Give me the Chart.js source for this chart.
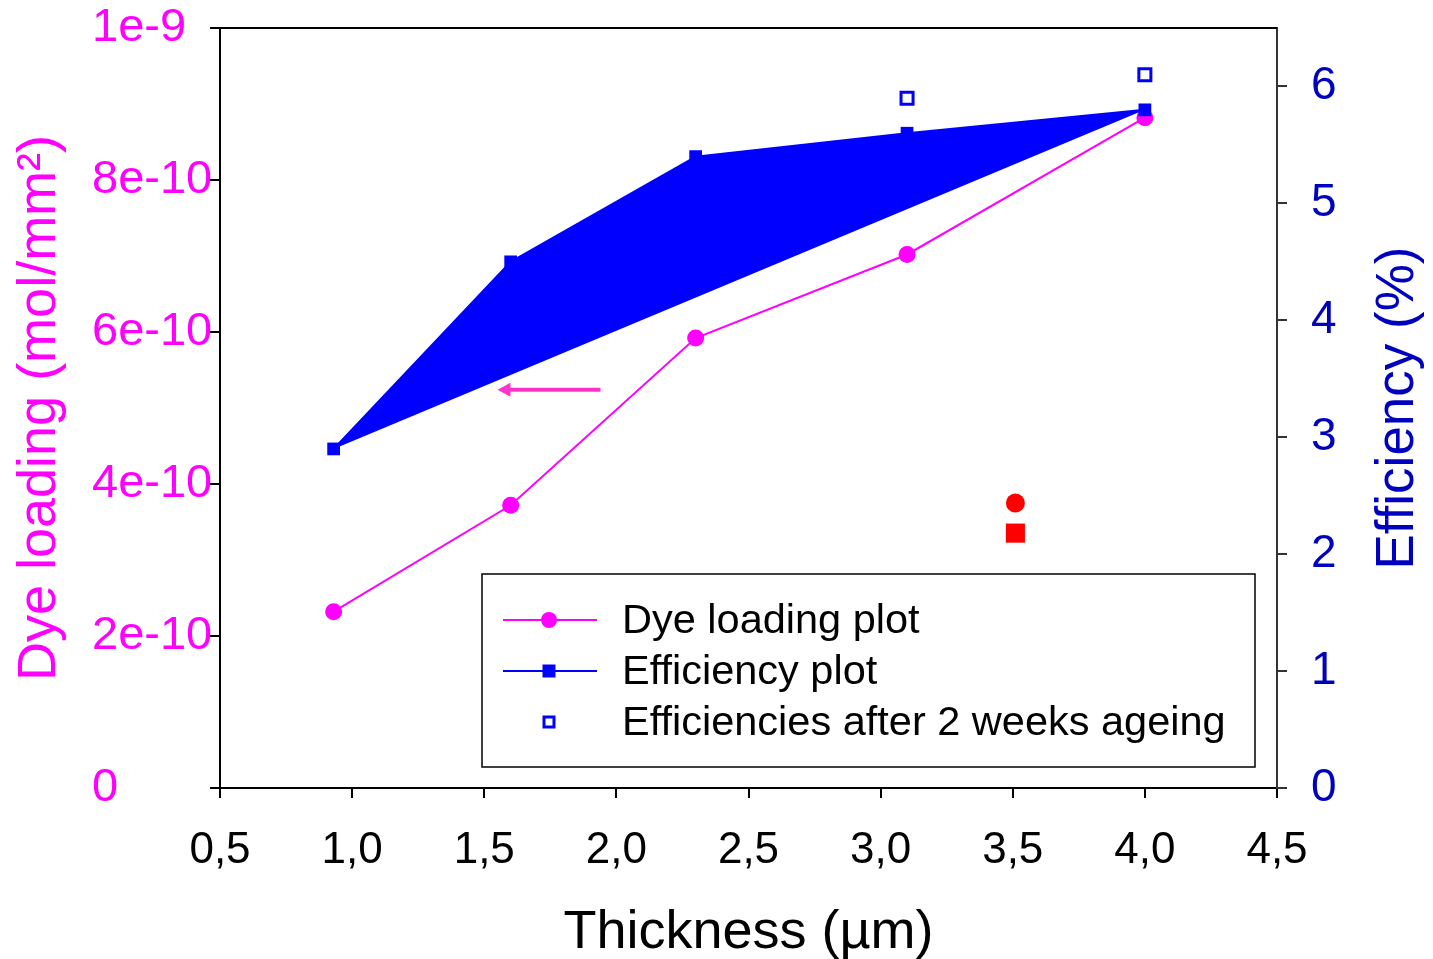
<!DOCTYPE html>
<html>
<head>
<meta charset="utf-8">
<script src="https://cdn.jsdelivr.net/npm/chart.js@4"></script>
<style>
  body { margin: 0; background: #fff; }
  canvas { display: block; }
</style>
</head>
<body>
<canvas id="grafico" width="1433" height="959"></canvas>
<script>
// Datos
const thickness = [0.93, 1.6, 2.3, 3.1, 4.0];
const dyeLoading = [2.32e-10, 3.72e-10, 5.92e-10, 7.02e-10, 8.82e-10];
const efficiency = [2.9, 4.5, 5.4, 5.6, 5.8];

const agedThickness = [3.1, 4.0];
const agedEfficiency = [5.9, 6.1];

// puntos rojos sueltos
const redThickness = [3.51];
const redDyeLoading = [3.75e-10];
const redEfficiency = [2.18];

// flecha que apunta al eje izquierdo (x desde, x hasta, y)
const arrowX = [1.94, 1.55];
const arrowY = 5.24e-10;

const xTickLabels = ['0,5', '1,0', '1,5', '2,0', '2,5', '3,0', '3,5', '4,0', '4,5'];
const leftTickLabels = ['0', '2e-10', '4e-10', '6e-10', '8e-10', '1e-9'];
const rightTickLabels = ['0', '1', '2', '3', '4', '5', '6'];

const legendLabels = ['Dye loading plot', 'Efficiency plot', 'Efficiencies after 2 weeks ageing'];

const FONT = '"Liberation Sans", Arial, sans-serif';
const MAGENTA = '#FF00FF';
const BLUE = '#0000FF';
const DARKBLUE = '#0000BF';

function toPoints(xs, ys) {
    return xs.map((x, i) => ({ x: x, y: ys[i] }));
}

// cuerda entre el primer y el ultimo punto de eficiencia (para el relleno)
const chord = toPoints(
    [thickness[0], thickness[thickness.length - 1]],
    [efficiency[0], efficiency[efficiency.length - 1]]
);

// texto vertical leido de abajo hacia arriba
function verticalText(ctx, text, x, y, size, color) {
    ctx.save();
    ctx.translate(x, y);
    ctx.rotate(-Math.PI / 2);
    ctx.font = size + 'px ' + FONT;
    ctx.fillStyle = color;
    ctx.textAlign = 'center';
    ctx.textBaseline = 'alphabetic';
    ctx.fillText(text, 0, 0);
    ctx.restore();
}

// Plugin para marco superior, flecha, titulos verticales y leyenda
const extras = {
    id: 'extras',
    afterDraw(chart) {
        const ctx = chart.ctx;
        const ca = chart.chartArea;
        const xs = chart.scales.x;
        const ys = chart.scales.y;
        ctx.save();

        // linea superior del marco
        ctx.strokeStyle = '#000';
        ctx.lineWidth = 2;
        ctx.beginPath();
        ctx.moveTo(ca.left - 10, ca.top);
        ctx.lineTo(ca.right, ca.top);
        ctx.stroke();

        // flecha
        const x1 = xs.getPixelForValue(arrowX[0]);
        const x2 = xs.getPixelForValue(arrowX[1]);
        const ya = ys.getPixelForValue(arrowY);
        ctx.strokeStyle = '#FF33CC';
        ctx.fillStyle = '#FF33CC';
        ctx.lineWidth = 4;
        ctx.beginPath();
        ctx.moveTo(x1, ya);
        ctx.lineTo(x2 + 12, ya);
        ctx.stroke();
        ctx.beginPath();
        ctx.moveTo(x2, ya);
        ctx.lineTo(x2 + 13, ya - 7);
        ctx.lineTo(x2 + 13, ya + 7);
        ctx.closePath();
        ctx.fill();

        // titulos de los ejes verticales
        const midY = (ca.top + ca.bottom) / 2;
        verticalText(ctx, 'Dye loading (mol/mm²)', 55, midY, 54, MAGENTA);
        verticalText(ctx, 'Efficiency (%)', 1413, midY, 53, DARKBLUE);

        // leyenda
        const bx = 482, by = 574, bw = 773, bh = 193;
        ctx.fillStyle = '#fff';
        ctx.fillRect(bx, by, bw, bh);
        ctx.strokeStyle = '#000';
        ctx.lineWidth = 1.5;
        ctx.strokeRect(bx, by, bw, bh);

        const rows = [620, 671, 722];
        const sx1 = 503, sx2 = 597, mx = 549;

        // fila 1: linea magenta con circulo
        ctx.strokeStyle = MAGENTA;
        ctx.lineWidth = 2;
        ctx.beginPath(); ctx.moveTo(sx1, rows[0]); ctx.lineTo(sx2, rows[0]); ctx.stroke();
        ctx.fillStyle = MAGENTA;
        ctx.beginPath(); ctx.arc(mx, rows[0], 8, 0, Math.PI * 2); ctx.fill();

        // fila 2: linea azul con cuadrado
        ctx.strokeStyle = BLUE;
        ctx.beginPath(); ctx.moveTo(sx1, rows[1]); ctx.lineTo(sx2, rows[1]); ctx.stroke();
        ctx.fillStyle = BLUE;
        ctx.fillRect(mx - 6.5, rows[1] - 6.5, 13, 13);

        // fila 3: cuadrado abierto
        ctx.strokeStyle = BLUE;
        ctx.lineWidth = 3;
        ctx.strokeRect(mx - 5, rows[2] - 5, 10, 10);

        ctx.fillStyle = '#000';
        ctx.font = '41.5px ' + FONT;
        ctx.textAlign = 'left';
        ctx.textBaseline = 'middle';
        legendLabels.forEach((txt, i) => ctx.fillText(txt, 622, rows[i] + 2));

        ctx.restore();
    }
};

const config = {
    type: 'line',
    data: {
        datasets: [
            {
                label: 'Efficiencies after 2 weeks ageing',
                data: toPoints(agedThickness, agedEfficiency),
                yAxisID: 'y2',
                showLine: false,
                pointStyle: 'rect',
                pointRadius: 8.5,
                pointBorderWidth: 3,
                pointBorderColor: BLUE,
                pointBackgroundColor: '#fff',
                order: 0
            },
            {
                label: 'Efficiency plot',
                data: toPoints(thickness, efficiency),
                yAxisID: 'y2',
                borderColor: BLUE,
                borderWidth: 2,
                backgroundColor: BLUE,
                fill: 2,
                pointStyle: 'rect',
                pointRadius: 9,
                pointBackgroundColor: BLUE,
                pointBorderWidth: 0,
                tension: 0,
                order: 1
            },
            {
                label: 'chord',
                data: chord,
                yAxisID: 'y2',
                borderColor: 'rgba(0,0,0,0)',
                borderWidth: 0,
                pointRadius: 0,
                fill: false,
                order: 3
            },
            {
                label: 'Dye loading plot',
                data: toPoints(thickness, dyeLoading),
                yAxisID: 'y',
                borderColor: MAGENTA,
                borderWidth: 2,
                pointStyle: 'circle',
                pointRadius: 8.5,
                pointBackgroundColor: MAGENTA,
                pointBorderWidth: 0,
                fill: false,
                order: 2
            },
            {
                label: 'red circle',
                data: toPoints(redThickness, redDyeLoading),
                yAxisID: 'y',
                showLine: false,
                pointStyle: 'circle',
                pointRadius: 9.5,
                pointBackgroundColor: '#FF0000',
                pointBorderWidth: 0,
                order: 0
            },
            {
                label: 'red square',
                data: toPoints(redThickness, redEfficiency),
                yAxisID: 'y2',
                showLine: false,
                pointStyle: 'rect',
                pointRadius: 13.5,
                pointBackgroundColor: '#FF0000',
                pointBorderWidth: 0,
                order: 0
            }
        ]
    },
    options: {
        responsive: false,
        animation: false,
        events: [],
        layout: { padding: { top: 28, left: 92, right: 0, bottom: 0 } },
        plugins: {
            legend: { display: false },
            tooltip: { enabled: false },
            title: { display: false }
        },
        scales: {
            x: {
                type: 'linear',
                position: 'bottom',
                min: 0.5,
                max: 4.5,
                afterFit: s => { s.height = 171; s.paddingLeft = 0; s.paddingRight = 0; },
                border: { display: true, color: '#000', width: 2 },
                grid: { drawOnChartArea: false, drawTicks: true, tickLength: 10, color: '#000', lineWidth: 2 },
                ticks: {
                    stepSize: 0.5,
                    color: '#000',
                    padding: 26,
                    font: { family: FONT, size: 44 },
                    callback: (v, i) => xTickLabels[i]
                },
                title: {
                    display: true,
                    text: 'Thickness (µm)',
                    color: '#000',
                    font: { family: FONT, size: 54, lineHeight: 1 },
                    padding: { top: 0, bottom: -1 }
                }
            },
            y: {
                type: 'linear',
                position: 'left',
                min: 0,
                max: 1e-9,
                afterFit: s => { s.width = 128; s.paddingTop = 0; s.paddingBottom = 0; },
                border: { display: true, color: '#000', width: 2 },
                grid: { drawOnChartArea: false, drawTicks: true, tickLength: 10, color: '#000', lineWidth: 2 },
                ticks: {
                    stepSize: 2e-10,
                    color: MAGENTA,
                    padding: 0,
                    crossAlign: 'far',
                    font: { family: FONT, size: 47 },
                    callback: (v, i) => leftTickLabels[i]
                },
                title: { display: false }
            },
            y2: {
                type: 'linear',
                position: 'right',
                min: 0,
                max: 6.5,
                afterFit: s => { s.width = 156; s.paddingTop = 0; s.paddingBottom = 0; },
                afterBuildTicks: s => { s.ticks = s.ticks.filter(t => Number.isInteger(t.value)); },
                border: { display: true, color: '#333', width: 2 },
                grid: { drawOnChartArea: false, drawTicks: true, tickLength: 10, color: '#333', lineWidth: 2 },
                ticks: {
                    stepSize: 1,
                    color: DARKBLUE,
                    padding: 24,
                    font: { family: FONT, size: 46 },
                    callback: (v, i) => rightTickLabels[i]
                },
                title: { display: false }
            }
        }
    },
    plugins: [extras]
};

const chartDOM = document.getElementById('grafico');
const myChart = new Chart(chartDOM, config);
</script>
</body>
</html>
